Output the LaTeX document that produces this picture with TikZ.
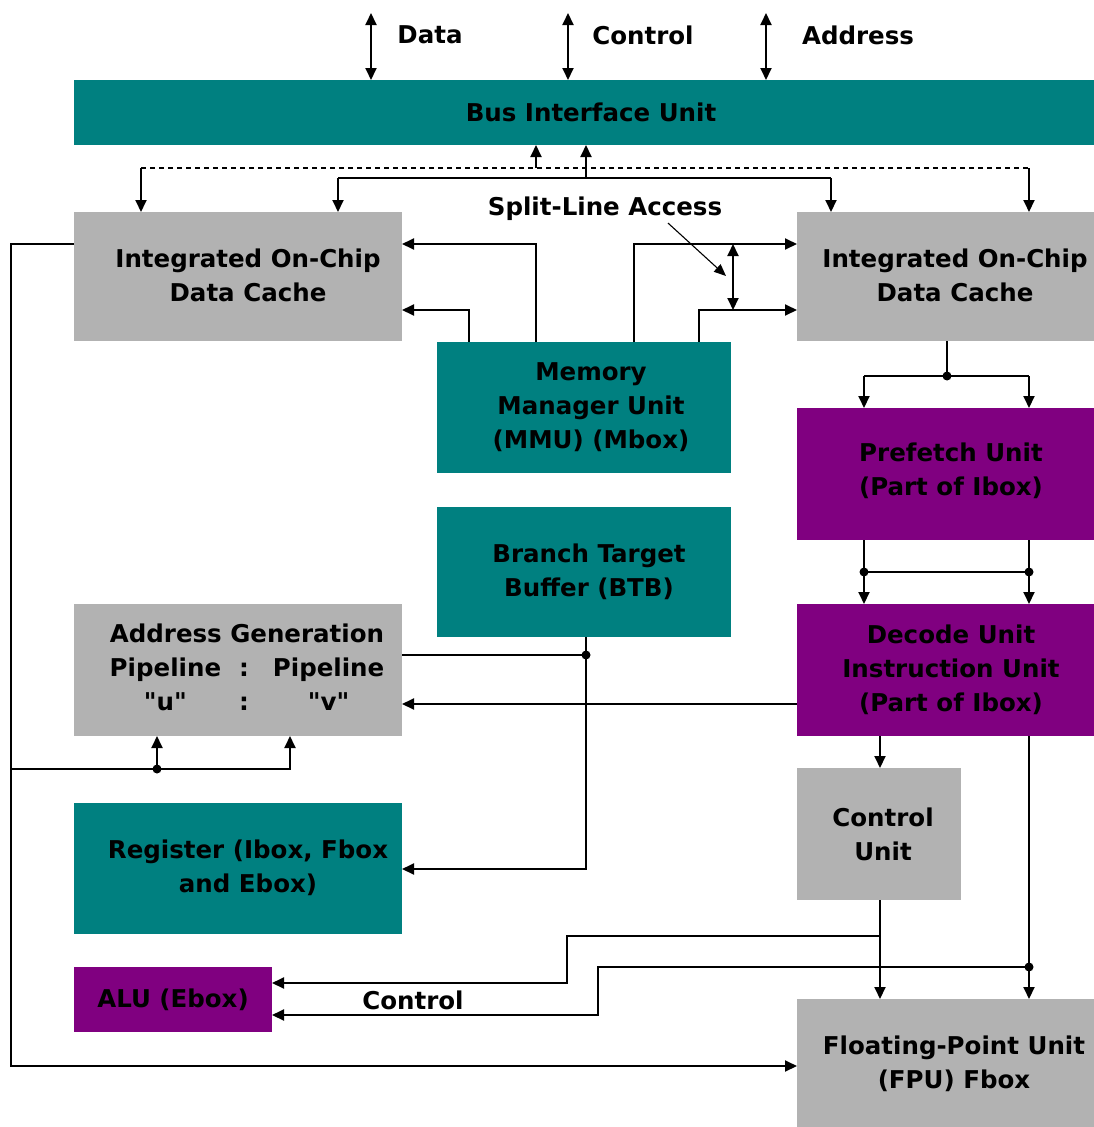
\documentclass[tikz,border=0pt]{standalone}
\usepackage{fontspec}
\setmainfont{DejaVu Sans}[Ligatures=TeXOff]
\usetikzlibrary{arrows.meta}
\definecolor{tealc}{HTML}{008080}
\definecolor{purpc}{HTML}{800080}
\definecolor{greyc}{HTML}{B2B2B2}
\begin{document}
\begin{tikzpicture}[x=1pt,y=-1pt,
  box/.style={inner sep=0pt, outer sep=0pt, anchor=north west},
  tbox/.style={box, fill=tealc},
  pbox/.style={box, fill=purpc},
  gbox/.style={box, fill=greyc},
  txt/.style={inner sep=0pt, align=center, font=\fontsize{24.5}{34}\selectfont\bfseries},
  wire/.style={line width=1.9pt},
  arr/.style={wire, -{Triangle[length=12pt,width=11pt]}},
  darr/.style={wire, {Triangle[length=12pt,width=11pt]}-{Triangle[length=12pt,width=11pt]}},
  ptr/.style={line width=1.1pt, -{Triangle[length=12pt,width=10pt]}},
  jdot/.style={fill=black, circle, inner sep=0pt, minimum size=9pt}
]
\useasboundingbox (0,0) rectangle (1094,1127);

% boxes
\node[tbox, minimum width=1020pt, minimum height=65pt] (biu) at (74,80) {};
\node[gbox, minimum width=328pt, minimum height=129pt] (lcache) at (74,212) {};
\node[gbox, minimum width=297pt, minimum height=129pt] (rcache) at (797,212) {};
\node[tbox, minimum width=294pt, minimum height=131pt] (mmu) at (437,342) {};
\node[tbox, minimum width=294pt, minimum height=130pt] (btb) at (437,507) {};
\node[pbox, minimum width=297pt, minimum height=132pt] (pre) at (797,408) {};
\node[pbox, minimum width=297pt, minimum height=132pt] (dec) at (797,604) {};
\node[gbox, minimum width=328pt, minimum height=132pt] (agen) at (74,604) {};
\node[gbox, minimum width=164pt, minimum height=132pt] (ctl) at (797,768) {};
\node[tbox, minimum width=328pt, minimum height=131pt] (reg) at (74,803) {};
\node[pbox, minimum width=198pt, minimum height=65pt] (alu) at (74,967) {};
\node[gbox, minimum width=297pt, minimum height=128pt] (fpu) at (797,999) {};

% texts
\node[txt] (biu-t) at (591,112) {Bus Interface Unit};
\node[txt] (lcache-t) at (248,275) {Integrated On-Chip\\Data Cache};
\node[txt] (rcache-t) at (955,275) {Integrated On-Chip\\Data Cache};
\node[txt] (mmu-t) at (591,407) {Memory\\Manager Unit\\(MMU) (Mbox)};
\node[txt] (btb-t) at (589,572) {Branch Target\\Buffer (BTB)};
\node[txt] (pre-t) at (951,471) {Prefetch Unit\\(Part of Ibox)};
\node[txt] (dec-t) at (951,670) {Decode Unit\\Instruction Unit\\(Part of Ibox)};
\node[txt] (agen-t) at (247,670) {\begin{tabular}{@{}c@{\hspace{18pt}}c@{\hspace{24pt}}c@{}}
\multicolumn{3}{@{}c@{}}{Address Generation}\\
Pipeline & : & Pipeline\\
"u" & : & "v"
\end{tabular}};
\node[txt] (ctl-t) at (883,834) {Control\\Unit};
\node[txt] (reg-t) at (248,868) {Register (Ibox, Fbox\\and Ebox)};
\node[txt] (alu-t) at (173,1000) {ALU (Ebox)};
\node[txt] (fpu-t) at (954,1064) {Floating-Point Unit\\(FPU) Fbox};

\node[txt] (lab-data) at (430,35) {Data};
\node[txt] (lab-ctl) at (643,35) {Control};
\node[txt] (lab-addr) at (858,35) {Address};
\node[txt] (lab-split) at (605,209) {Split-Line Access};
\node[txt] (lab-ctl2) at (413,1000) {Control};

% level coordinates
\coordinate (y244) at (0,244);
\coordinate (y310) at (0,310);
\coordinate (y704) at (0,704);

% top bus arrows
\coordinate (tD) at (371,13);
\coordinate (tC) at (568,13);
\coordinate (tA) at (766,13);
\draw[darr] (tD) -- (tD |- biu.north);
\draw[darr] (tC) -- (tC |- biu.north);
\draw[darr] (tA) -- (tA |- biu.north);

% dashed bus
\coordinate (dL) at (141,168);
\coordinate (dR) at (1029,168);
\coordinate (dU) at (536,168);
\draw[wire, dash pattern=on 5pt off 4pt] (dL) -- (dR);
\draw[arr] (dL) -- (dL |- lcache.north);
\draw[arr] (dR) -- (dR |- rcache.north);
\draw[arr] (dU) -- (dU |- biu.south);

% solid bus
\coordinate (sL) at (338,178);
\coordinate (sR) at (831,178);
\coordinate (sU) at (586,178);
\draw[wire] (sL) -- (sR);
\draw[arr] (sL) -- (sL |- lcache.north);
\draw[arr] (sR) -- (sR |- rcache.north);
\draw[arr] (sU) -- (sU |- biu.south);

% MMU to caches
\draw[arr] ([xshift=99pt]mmu.north west) |- (lcache.east |- y244);
\draw[arr] ([xshift=32pt]mmu.north west) |- (lcache.east |- y310);
\draw[arr] ([xshift=197pt]mmu.north west) |- (rcache.west |- y244);
\draw[arr] ([xshift=262pt]mmu.north west) |- (rcache.west |- y310);

% split-line access
\coordinate (sa1) at (733,244);
\coordinate (sa2) at (733,310);
\coordinate (sap) at (726,276);
\draw[darr] (sa1) -- (sa2);
\draw[ptr] ([xshift=63pt,yshift=-2pt]lab-split.south) -- (sap);

% cache to prefetch
\coordinate (pj) at (947,376);
\coordinate (pl) at (864,376);
\coordinate (pr) at (1029,376);
\draw[wire] (pj |- rcache.south) -- (pj);
\draw[wire] (pl) -- (pr);
\draw[arr] (pl) -- (pl |- pre.north);
\draw[arr] (pr) -- (pr |- pre.north);
\node[jdot] (dot1) at (pj) {};

% prefetch to decode
\coordinate (q1) at (864,572);
\coordinate (q2) at (1029,572);
\draw[arr] (q1 |- pre.south) -- (q1 |- dec.north);
\draw[arr] (q2 |- pre.south) -- (q2 |- dec.north);
\draw[wire] (q1) -- (q2);
\node[jdot] (dot2) at (q1) {};
\node[jdot] (dot3) at (q2) {};

% BTB
\coordinate (bj) at (586,655);
\coordinate (bb) at (586,869);
\draw[arr] (bj |- btb.south) -- (bb) -- (reg.east |- bb);
\draw[wire] (agen.east |- bj) -- (bj);
\node[jdot] (dot4) at (bj) {};

% decode to address generation
\draw[arr] (dec.west |- y704) -- (agen.east |- y704);

% decode to control unit and FPU
\coordinate (cx) at (880,0);
\coordinate (dx) at (1029,0);
\draw[arr] (cx |- dec.south) -- (cx |- ctl.north);
\draw[arr] (cx |- ctl.south) -- (cx |- fpu.north);
\draw[arr] (dx |- dec.south) -- (dx |- fpu.north);

% control to ALU
\coordinate (c1) at (880,936);
\coordinate (c2) at (567,936);
\coordinate (c3) at (567,983);
\draw[arr] (c1) -- (c2) -- (c3) -- (alu.east |- c3);
\coordinate (e1) at (1029,967);
\coordinate (e2) at (598,967);
\coordinate (e3) at (598,1015);
\draw[arr] (e1) -- (e2) -- (e3) -- (alu.east |- e3);
\node[jdot] (dot5) at (e1) {};

% left loop
\coordinate (l1) at (11,244);
\coordinate (l2) at (11,1066);
\draw[arr] (lcache.west |- l1) -- (l1) -- (l2) -- (fpu.west |- l2);
\coordinate (g0) at (11,769);
\coordinate (g1) at (157,769);
\coordinate (g2) at (290,769);
\draw[arr] (g0) -- (g2) -- (g2 |- agen.south);
\draw[arr] (g1) -- (g1 |- agen.south);
\node[jdot] (dot6) at (g1) {};
\end{tikzpicture}
\end{document}
